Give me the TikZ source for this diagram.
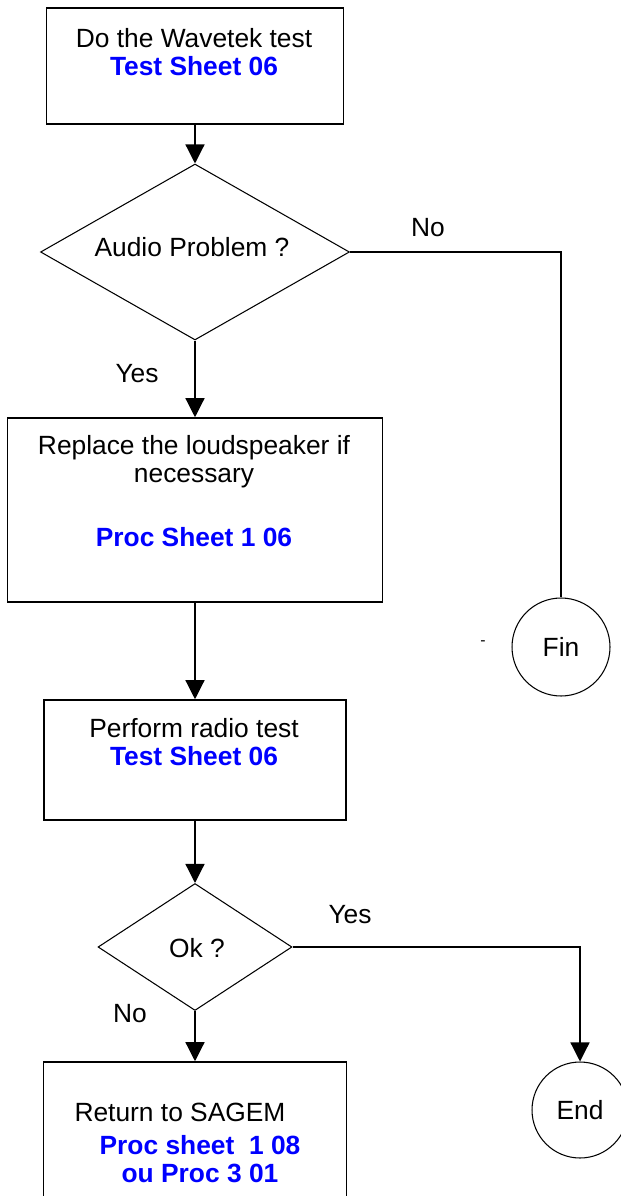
\documentclass[tikz,border=0pt]{standalone}
\usepackage{fontspec}
\setmainfont{Liberation Sans}
\usetikzlibrary{shapes.geometric,arrows.meta,positioning}

\tikzset{
    flowbox/.style={draw, line width=0.9pt, rectangle, inner sep=0pt},
    decision/.style={draw, line width=0.6pt, diamond, inner sep=0pt},
    endpoint/.style={draw, line width=0.6pt, circle, inner sep=0pt, font=\fontsize{15}{16}\selectfont},
    flowtext/.style={align=center, inner sep=0pt, font=\fontsize{15}{16}\selectfont},
    flowline/.style={line width=0.7pt},
    flowarrow/.style={line width=0.7pt, -{Triangle[length=0.38cm, width=0.38cm]}},
}
\newcommand{\sheetref}[1]{{\bfseries\color{blue}#1}}

\begin{document}
\begin{tikzpicture}[x=0.02cm, y=-0.02cm]
        \useasboundingbox (0, 0) rectangle (621, 1196);

        % boxes and decisions
        \node[flowbox, minimum width=5.94cm, minimum height=2.32cm] (wavetek) at (195, 66) {};
        \node[decision, minimum width=6.18cm, minimum height=3.52cm] (audio) at (195, 252) {};
        \node[flowbox, minimum width=7.5cm, minimum height=3.68cm] (speaker) at (195, 510) {};
        \node[flowbox, minimum width=6.04cm, minimum height=2.4cm] (radio) at (195, 760) {};
        \node[decision, minimum width=3.88cm, minimum height=2.54cm] (ok) at (195, 947) {};
        \node[flowbox, minimum width=6.06cm, minimum height=3.16cm] (sagem) at (195, 1141) {};
        \node[endpoint, minimum size=1.96cm] (fin) at (561, 647) {Fin};
        \node[endpoint, minimum size=1.92cm] (end) at (580, 1110) {End};

        % texts
        \node[flowtext] (wavetektxt) at (194, 52) {Do the Wavetek test\\ \sheetref{Test Sheet 06}};
        \node[flowtext] (audiotxt) at (192, 247) {Audio Problem ?};
        \node[flowtext] (speakertxt) at (194, 491) {Replace the loudspeaker if\\ necessary\\[20pt] \sheetref{Proc Sheet 1 06}};
        \node[flowtext] (radiotxt) at (194, 742) {Perform radio test\\ \sheetref{Test Sheet 06}};
        \node[flowtext] (oktxt) at (197, 948) {Ok ?};
        \node[flowtext] (sagemtxt) at (180, 1112) {Return to SAGEM};
        \node[flowtext] (proctxt) at (200, 1159) {\sheetref{Proc sheet~~1 08}\\ \sheetref{ou Proc 3 01}};
        \node[flowtext, font=\fontsize{9}{9}\selectfont] (dash) at (483, 643) {-};

        % connectors
        \draw[flowarrow] (wavetek) -- (audio);
        \draw[flowline] (audio.east) -| (fin.north);
        \draw[flowarrow] (audio) -- (speaker);
        \draw[flowarrow] (speaker) -- (radio);
        \draw[flowarrow] (radio) -- (ok);
        \draw[flowarrow] (ok.east) -| (end.north);
        \draw[flowarrow] (ok) -- (sagem);

        \node[flowtext] (audiono) at (428, 228) {No};
        \node[flowtext] (audioyes) at (137, 374) {Yes};
        \node[flowtext] (okyes) at (350, 915) {Yes};
        \node[flowtext] (okno) at (130, 1014) {No};
    \end{tikzpicture}
\end{document}
